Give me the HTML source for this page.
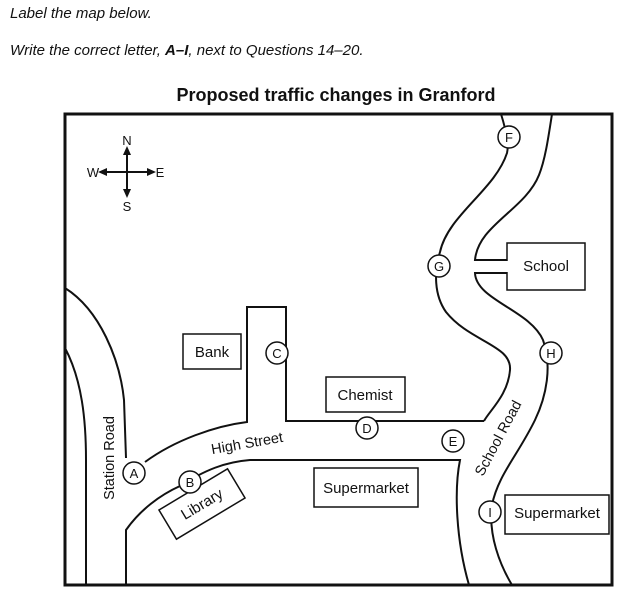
<!DOCTYPE html>
<html><head><meta charset="utf-8"><style>
html,body{margin:0;padding:0;background:#fff;}
svg{display:block;font-family:"Liberation Sans",Arial,sans-serif;}
</style></head><body>
<svg width="644" height="598" viewBox="0 0 644 598" xmlns="http://www.w3.org/2000/svg">
<text x="10" y="18" font-size="15" font-style="italic" fill="#111">Label the map below.</text>
<text x="10" y="55" font-size="15" font-style="italic" fill="#111">Write the correct letter, <tspan font-weight="bold">A–I</tspan>, next to Questions 14–20.</text>
<text x="336" y="101" font-size="18" font-weight="bold" text-anchor="middle" fill="#111">Proposed traffic changes in Granford</text>
<rect x="65" y="114" width="547" height="471" fill="none" stroke="#111" stroke-width="3"/>
<g fill="none" stroke="#111" stroke-width="2">
<path d="M65,288 C100,310 120,360 124,400 L126,458"/>
<path d="M65,348 C82,380 86,420 86,460 L86,585"/>
<path d="M145,462 C175,440 215,426 247,422 L247,307 L286,307 L286,421 L484,421"/>
<path d="M126,585 L126,530 C140,510 160,495 180,486 C205,470 225,462 250,460 L460,460 C454,490 456,540 469,585"/>
<path d="M501,114 C506,130 509,145 507,153 C495,190 448,215 440,252 C434,272 434,295 446,312 C470,342 512,345 510,370 C508,395 490,410 484,421"/>
<path d="M552,114 C548,140 545,160 539,175 C525,210 478,225 475,260 L507,260"/>
<path d="M507,273 L475,273 C476,300 530,310 543,340 C552,365 547,395 535,420 C518,455 498,475 492,505 C488,535 500,565 512,585"/>
<path d="M127,152 L127,192 M104,172 L150,172"/>
</g>
<g fill="#111">
<polygon points="127,146 123,155 131,155"/>
<polygon points="127,198 123,189 131,189"/>
<polygon points="98,172 107,168 107,176"/>
<polygon points="156,172 147,168 147,176"/>
</g>
<g font-size="13" fill="#111" text-anchor="middle">
<text x="127" y="145">N</text>
<text x="127" y="211">S</text>
<text x="93" y="177">W</text>
<text x="160" y="177">E</text>
</g>
<g fill="#fff" stroke="#111" stroke-width="1.5">
<rect x="183" y="334" width="58" height="35"/>
<rect x="326" y="377" width="79" height="35"/>
<rect x="314" y="468" width="104" height="39"/>
<rect x="505" y="495" width="104" height="39"/>
<rect x="507" y="243" width="78" height="47"/>
<rect x="162" y="487" width="80" height="34" transform="rotate(-31 202 504)"/>
</g>
<rect x="503" y="261" width="6" height="11" fill="#fff"/>
<g font-size="15" fill="#111" text-anchor="middle">
<text x="212" y="357">Bank</text>
<text x="365" y="400">Chemist</text>
<text x="366" y="493">Supermarket</text>
<text x="557" y="518">Supermarket</text>
<text x="546" y="271">School</text>
<text x="202" y="509" transform="rotate(-31 202 504)">Library</text>
</g>
<g font-size="14.5" fill="#111" text-anchor="middle">
<text x="110" y="462" transform="rotate(-90 110 458)">Station Road</text>
<text x="247" y="448" transform="rotate(-10 247 443)">High Street</text>
<text x="498" y="443" transform="rotate(-62 498 438)">School Road</text>
</g>
<g fill="#fff" stroke="#111" stroke-width="1.5">
<circle cx="134" cy="473" r="11"/>
<circle cx="190" cy="482" r="11"/>
<circle cx="277" cy="353" r="11"/>
<circle cx="367" cy="428" r="11"/>
<circle cx="453" cy="441" r="11"/>
<circle cx="509" cy="137" r="11"/>
<circle cx="439" cy="266" r="11"/>
<circle cx="551" cy="353" r="11"/>
<circle cx="490" cy="512" r="11"/>
</g>
<g font-size="13" fill="#111" text-anchor="middle">
<text x="134" y="478">A</text>
<text x="190" y="487">B</text>
<text x="277" y="358">C</text>
<text x="367" y="433">D</text>
<text x="453" y="446">E</text>
<text x="509" y="142">F</text>
<text x="439" y="271">G</text>
<text x="551" y="358">H</text>
<text x="490" y="517">I</text>
</g>
</svg>
</body></html>
